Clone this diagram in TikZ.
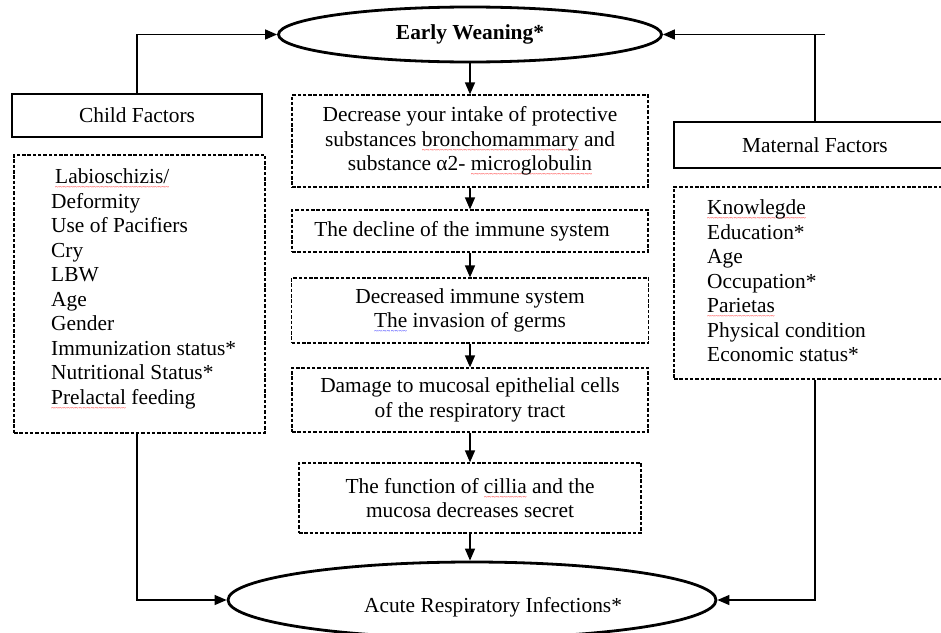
\documentclass[tikz,border=0pt]{standalone}
\usepackage{fontspec}
\setmainfont{Liberation Serif}
\usetikzlibrary{arrows.meta,shapes.geometric}
\newcommand\sqline[2]{\setbox0=\hbox{#2}\rlap{\raisebox{-6pt}[0pt][0pt]{\color{#1}\hbox to \wd0{\xleaders\hbox{\fontsize{7}{7}\selectfont\char"7E}\hfill}}}\box0\relax}
\begin{document}
\begin{tikzpicture}[x=1pt,y=-1pt,
  every node/.style={font=\fontsize{21.4}{24.5}\selectfont, inner sep=0pt},
  solidbox/.style={draw, line width=1.3pt, rectangle},
  dashbox/.style={draw, line width=1.2pt, dash pattern=on 3.5pt off 1.8pt, rectangle},
  oval/.style={draw, ellipse, line width=2.8pt},
  link/.style={line width=1.4pt, -{Triangle[length=12pt,width=10pt]}},
  plain/.style={line width=1.4pt}]
\useasboundingbox (0,0) rectangle (941,632);

% ellipses
\node[oval, minimum width=383pt, minimum height=55pt] (early) at (470,34.5) {\bfseries Early Weaning*};
\node[oval, minimum width=488pt, minimum height=76pt] (ari) at (472,600) {};
\node[anchor=base] (arit) at (493,612) {Acute Respiratory Infections*};

% child factors
\node[solidbox, minimum width=250pt, minimum height=43pt] (childf) at (137,115.5) {Child Factors};
\node[dashbox, minimum width=251pt, minimum height=278pt] (childl) at (139.5,294) {};
\node[anchor=north west, align=left] (childt) at (51,168.5)
  {\hspace*{4pt}\sqline{red}{Labioschizis/}\\ Deformity\\ Use of Pacifiers\\ Cry\\ LBW\\ Age\\ Gender\\
   Immunization status*\\ Nutritional Status*\\ \sqline{red}{Prelactal} feeding};

% maternal factors
\node[solidbox, minimum width=282pt, minimum height=46pt] (matf) at (815,145) {Maternal Factors};
\node[dashbox, minimum width=282pt, minimum height=192pt] (matl) at (815,283) {};
\node[anchor=north west, align=left] (matt) at (707,199.5)
  {\sqline{red}{Knowlegde}\\ Education*\\ Age\\ Occupation*\\ \sqline{red}{Parietas}\\ Physical condition\\ Economic status*};

% middle chain
\node[dashbox, minimum width=356pt, minimum height=92pt, align=center] (b1) at (470,141)
  {Decrease your intake of protective\\ substances \sqline{red}{bronchomammary} and\\ substance α2- \sqline{red}{microglobulin}};
\node[dashbox, minimum width=356pt, minimum height=42pt] (b2) at (470,231)
  {The decline of the immune system\hspace*{16pt}};
\node[dashbox, minimum width=357pt, minimum height=65pt, align=center] (b3) at (470,310.5)
  {Decreased immune system\\ \sqline{blue}{The} invasion of germs};
\node[dashbox, minimum width=356pt, minimum height=64pt, align=center] (b4) at (470,400)
  {Damage to mucosal epithelial cells\\ of the respiratory tract};
\node[dashbox, minimum width=342pt, minimum height=70pt, align=center] (b5) at (470,498)
  {The function of \sqline{red}{cillia} and the\\ mucosa decreases secret};

% chain arrows
\draw[link] (early.south) -- (b1.north);
\draw[link] (b1) -- (b2);
\draw[link] (b2) -- (b3);
\draw[link] (b3) -- (b4);
\draw[link] (b4) -- (b5);
\draw[link] (b5.south) -- (b5.south |- ari.north);

% side connectors
\draw[link] (childf.north) |- (early.west);
\coordinate (rtop) at (825,34.5);
\draw[link] (rtop) -- (early.east);
\draw[plain] (matf.north) -- (matf.north |- rtop);
\draw[link] (childf.south |- childl.south) |- (ari.west);
\draw[link] (matl.south) |- (ari.east);
\end{tikzpicture}
\end{document}
